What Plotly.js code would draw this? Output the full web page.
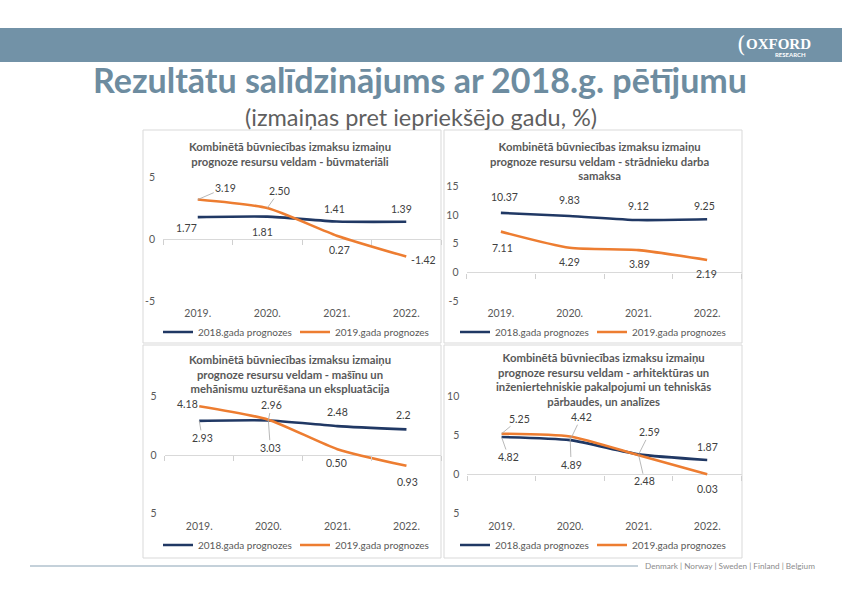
<!DOCTYPE html>
<html><head><meta charset="utf-8">
<script src="https://cdn.plot.ly/plotly-3.0.1.min.js"></script>
<style>html,body{margin:0;padding:0;background:#fff}#chart{width:842px;height:595px}</style>
</head><body><div id="chart"></div>
<script>
// ---------- data ----------
const years = ['2019.', '2020.', '2021.', '2022.'];
const seriesNames = ['2018.gada prognozes', '2019.gada prognozes'];

const mainTitle = 'Rezultātu salīdzinājums ar 2018.g. pētījumu';
const subTitle = '(izmaiņas pret iepriekšējo gadu, %)';
const footerText = 'Denmark | Norway | Sweden | Finland | Belgium';

const title1 = 'Kombinētā būvniecības izmaksu izmaiņu<br>prognoze resursu veldam - būvmateriāli';
const title2 = 'Kombinētā būvniecības izmaksu izmaiņu<br>prognoze resursu veldam - strādnieku darba<br>samaksa';
const title3 = 'Kombinētā būvniecības izmaksu izmaiņu<br>prognoze resursu veldam - mašīnu un<br>mehānismu uzturēšana un ekspluatācija';
const title4 = 'Kombinētā būvniecības izmaksu izmaiņu<br>prognoze resursu veldam - arhitektūras un<br>inženiertehniskie pakalpojumi un tehniskās<br>pārbaudes, un analīzes';

// panel 1 – būvmateriāli
const p1_2018 = [1.77, 1.81, 1.41, 1.39];
const p1_2019 = [3.19, 2.50, 0.27, -1.42];
const p1_lab2018 = ['1.77', '1.81', '1.41', '1.39'];
const p1_lab2019 = ['3.19', '2.50', '0.27', '-1.42'];
const p1_ticks = [-5, 0, 5];
const p1_tickText = ['-5', '0', '5'];

// panel 2 – strādnieku darba samaksa
const p2_2018 = [10.37, 9.83, 9.12, 9.25];
const p2_2019 = [7.11, 4.29, 3.89, 2.19];
const p2_lab2018 = ['10.37', '9.83', '9.12', '9.25'];
const p2_lab2019 = ['7.11', '4.29', '3.89', '2.19'];
const p2_ticks = [-5, 0, 5, 10, 15];
const p2_tickText = ['-5', '0', '5', '10', '15'];

// panel 3 – mašīnu un mehānismu uzturēšana
const p3_2018 = [2.93, 2.96, 2.48, 2.2];
const p3_2019 = [4.18, 3.03, 0.50, -0.93];
const p3_lab2018 = ['2.93', '2.96', '2.48', '2.2'];
const p3_lab2019 = ['4.18', '3.03', '0.50', '0.93'];
const p3_ticks = [-5, 0, 5];
const p3_tickText = ['5', '0', '5'];

// panel 4 – arhitektūras un inženiertehniskie pakalpojumi
const p4_2018 = [4.82, 4.42, 2.59, 1.87];
const p4_2019 = [5.25, 4.89, 2.48, 0.03];
const p4_lab2018 = ['4.82', '4.42', '2.59', '1.87'];
const p4_lab2019 = ['5.25', '4.89', '2.48', '0.03'];
const p4_ticks = [-5, 0, 5, 10];
const p4_tickText = ['5', '0', '5', '10'];

// ---------- layout helpers ----------
const W = 842, H = 595;
const fx = px => px / W;
const fy = py => 1 - py / H;
const FONT = 'Lato, "Open Sans", sans-serif';
const DARK = '#203864', ORANGE = '#ED7D31';
const TXT = '#595959';

const panels = [
  { n: 1, s18: p1_2018, s19: p1_2019, l18: p1_lab2018, l19: p1_lab2019, ticks: p1_ticks, tt: p1_tickText, title: title1,
    xPx: [163, 441], top: 172, bot: 305, zero: 239, ppu: 12.37, titleXY: [290, 154], legXY: [158, 332],
    box: [143, 130, 441, 343],
    off18: [[-11, 11, 0], [-5, 15, 0], [-2, -13, 0], [-5, -13, 0]],
    off19: [[28, -12, 1], [12, -17, 1], [3, 14, 0], [17, 3, 0]] },
  { n: 2, s18: p2_2018, s19: p2_2019, l18: p2_lab2018, l19: p2_lab2019, ticks: p2_ticks, tt: p2_tickText, title: title2,
    xPx: [466.5, 741.5], top: 183, bot: 305, zero: 272.5, ppu: 5.75, titleXY: [600, 161], legXY: [455, 332],
    box: [444, 130, 742, 343],
    off18: [[4, -16, 0], [0, -16, 0], [0, -14, 0], [-3, -13, 0]],
    off19: [[2, 16, 0], [0, 14, 0], [1, 14, 0], [-1, 14, 0]] },
  { n: 3, s18: p3_2018, s19: p3_2019, l18: p3_lab2018, l19: p3_lab2019, ticks: p3_ticks, tt: p3_tickText, title: title3,
    xPx: [164.7, 441], top: 390, bot: 518, zero: 455, ppu: 11.66, titleXY: [290, 374], legXY: [158, 545],
    box: [143, 345, 441, 558],
    off18: [[3, 17, 1], [3, -15, 1], [0, -14, 0], [-3, -14, 0]],
    off19: [[-12, -2, 0], [2, 28, 1], [-1, 14, 0], [1, 16, 0]] },
  { n: 4, s18: p4_2018, s19: p4_2019, l18: p4_lab2018, l19: p4_lab2019, ticks: p4_ticks, tt: p4_tickText, title: title4,
    xPx: [467.3, 741.5], top: 390, bot: 518, zero: 474.5, ppu: 7.77, titleXY: [603, 380], legXY: [455, 545],
    box: [444, 345, 742, 558],
    off18: [[7, 20, 1], [11, -23, 1], [11, -22, 1], [0, -13, 0]],
    off19: [[18, -15, 1], [1, 28, 1], [6, 26, 1], [0, 15, 0]] }
];

const traces = [];
const layout = {
  width: W, height: H,
  margin: { l: 0, r: 0, t: 0, b: 0 },
  paper_bgcolor: '#ffffff', plot_bgcolor: 'rgba(0,0,0,0)',
  font: { family: FONT, color: TXT, size: 10.5 },
  showlegend: true,
  shapes: [], annotations: []
};

panels.forEach(p => {
  const n = p.n;
  const sfx = n === 1 ? '' : String(n);
  const xa = 'x' + sfx, ya = 'y' + sfx, xt = 'x' + (n + 4);
  const xkey = 'xaxis' + sfx, ykey = 'yaxis' + sfx, xtkey = 'xaxis' + (n + 4);
  const legKey = 'legend' + sfx;
  const yr = [(p.zero - p.bot) / p.ppu, (p.zero - p.top) / p.ppu];

  [[p.s18, seriesNames[0], DARK], [p.s19, seriesNames[1], ORANGE]].forEach(([vals, name, col]) => {
    traces.push({
      type: 'scatter', mode: 'lines', x: years, y: vals, name: name,
      xaxis: xa, yaxis: ya, legend: legKey,
      line: { color: col, width: 2.6, shape: 'spline', smoothing: 0.6 },
      hoverinfo: 'skip'
    });
  });
  // invisible trace carrying the category-boundary tick axis that sits on the zero line
  traces.push({ type: 'scatter', mode: 'markers', x: [0], y: [null], xaxis: xt, yaxis: ya,
    showlegend: false, hoverinfo: 'skip', marker: { opacity: 0 } });

  layout[xkey] = {
    domain: [fx(p.xPx[0]), fx(p.xPx[1])], anchor: ya, type: 'category',
    categoryorder: 'array', categoryarray: years, range: [-0.5, 3.5],
    showgrid: false, zeroline: false, showline: false, ticks: '',
    tickfont: { family: FONT, size: 10.5, color: TXT }, fixedrange: true
  };
  layout[xtkey] = {
    overlaying: xa, anchor: 'free', position: fy(p.zero), side: 'bottom', type: 'linear',
    range: [-0.5, 3.5], tickmode: 'linear', tick0: -0.5, dtick: 1,
    ticks: 'outside', ticklen: 5, tickwidth: 1, tickcolor: '#d0d0d0',
    showticklabels: false, showgrid: false, zeroline: false, showline: false, fixedrange: true
  };
  layout[ykey] = {
    domain: [fy(p.bot), fy(p.top)], anchor: xa, range: yr,
    tickmode: 'array', tickvals: p.ticks, ticktext: p.tt,
    showgrid: false, showline: false, ticks: '', ticklabelstandoff: 7,
    zeroline: true, zerolinecolor: '#d9d9d9', zerolinewidth: 1,
    tickfont: { family: FONT, size: 10.5, color: TXT }, fixedrange: true
  };
  layout[legKey] = {
    orientation: 'h', x: fx(p.legXY[0]), y: fy(p.legXY[1]), xanchor: 'left', yanchor: 'middle',
    xref: 'paper', yref: 'paper', bgcolor: 'rgba(0,0,0,0)',
    font: { family: FONT, size: 10, color: TXT },
    entrywidth: 92, entrywidthmode: 'pixels', itemwidth: 30, tracegroupgap: 0
  };

  // panel border
  layout.shapes.push({ type: 'rect', xref: 'paper', yref: 'paper', layer: 'below',
    x0: fx(p.box[0]), x1: fx(p.box[2]), y0: fy(p.box[3]), y1: fy(p.box[1]),
    line: { color: '#d9d9d9', width: 1 }, fillcolor: 'rgba(0,0,0,0)' });

  // panel title
  layout.annotations.push({ xref: 'paper', yref: 'paper', x: fx(p.titleXY[0]), y: fy(p.titleXY[1]),
    xanchor: 'center', yanchor: 'middle', showarrow: false, text: '<b>' + p.title + '</b>',
    font: { family: FONT, size: 11.3, color: TXT }, align: 'center' });

  // data labels (positioned on the data through the panel's axes)
  [[p.s18, p.l18, p.off18], [p.s19, p.l19, p.off19]].forEach(([vals, labs, offs]) => {
    vals.forEach((v, i) => {
      const o = offs[i];
      const a = { xref: xa, yref: ya, x: i, y: v, text: labs[i],
        font: { family: FONT, size: 10.5, color: '#404040' } };
      if (o[2]) {
        Object.assign(a, { showarrow: true, ax: o[0], ay: o[1], arrowhead: 0, arrowwidth: 0.8,
          arrowcolor: '#a6a6a6' });
      } else {
        Object.assign(a, { showarrow: false, xshift: o[0], yshift: -o[1] });
      }
      layout.annotations.push(a);
    });
  });
});

// header bar
layout.shapes.push({ type: 'rect', xref: 'paper', yref: 'paper', layer: 'below',
  x0: 0, x1: 1, y0: fy(62), y1: fy(28), line: { width: 0 }, fillcolor: '#7292A7' });
// footer line
layout.shapes.push({ type: 'line', xref: 'paper', yref: 'paper',
  x0: fx(30), x1: fx(638), y0: fy(566), y1: fy(566), line: { color: '#8aa3b5', width: 1 } });

// header texts
layout.annotations.push(
  { xref: 'paper', yref: 'paper', x: fx(420), y: fy(80), xanchor: 'center', yanchor: 'middle', showarrow: false,
    text: '<b>' + mainTitle + '</b>', font: { family: FONT, size: 34, color: '#6d8ca0' } },
  { xref: 'paper', yref: 'paper', x: fx(421), y: fy(117), xanchor: 'center', yanchor: 'middle', showarrow: false,
    text: subTitle, font: { family: FONT, size: 23.5, color: '#5f5f5f' } },
  { xref: 'paper', yref: 'paper', x: fx(741), y: fy(45), xanchor: 'center', yanchor: 'middle', showarrow: false,
    text: '(', font: { family: 'DejaVu Serif, serif', size: 22, color: '#ffffff' } },
  { xref: 'paper', yref: 'paper', x: fx(778), y: fy(44), xanchor: 'center', yanchor: 'middle', showarrow: false,
    text: '<b>OXFORD</b>', font: { family: 'Liberation Serif, serif', size: 15, color: '#ffffff' } },
  { xref: 'paper', yref: 'paper', x: fx(790), y: fy(54), xanchor: 'center', yanchor: 'middle', showarrow: false,
    text: '<b>RESEARCH</b>', font: { family: FONT, size: 6, color: '#ffffff' } },
  { xref: 'paper', yref: 'paper', x: fx(643), y: fy(566), xanchor: 'left', yanchor: 'middle', showarrow: false,
    text: footerText, font: { family: FONT, size: 8.2, color: '#8c8c8c' } }
);

Plotly.newPlot('chart', traces, layout, { staticPlot: true, displayModeBar: false });
</script>
</body></html>
